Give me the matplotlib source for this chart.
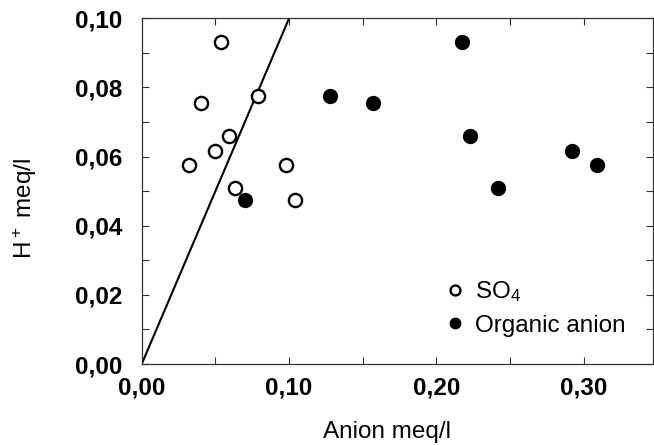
import matplotlib

matplotlib.use("Agg")
import matplotlib.pyplot as plt
from matplotlib.ticker import FuncFormatter, MultipleLocator


# sulphate samples (open circles)
so4_anion = [0.054, 0.040, 0.079, 0.059, 0.050, 0.032, 0.098, 0.063, 0.104]
so4_h = [0.093, 0.0755, 0.0775, 0.066, 0.0615, 0.0575, 0.0575, 0.051, 0.0475]

# organic anion samples (filled circles)
org_anion = [0.070, 0.128, 0.157, 0.217, 0.223, 0.242, 0.292, 0.309]
org_h = [0.0475, 0.0775, 0.0755, 0.093, 0.066, 0.051, 0.0615, 0.0575]

# 1:1 line
line_x = [0.0, 0.10]
line_y = [0.0, 0.10]

x_ticks = [0.0, 0.10, 0.20, 0.30]
y_ticks = [0.0, 0.02, 0.04, 0.06, 0.08, 0.10]

plt.rcParams["font.family"] = ["Liberation Sans", "DejaVu Sans"]
plt.rcParams["mathtext.default"] = "regular"
plt.rcParams["font.size"] = 17.5


def comma(value, pos):
    return f"{value:.2f}".replace(".", ",")


fig = plt.figure(figsize=(6.54, 4.45), dpi=100)
ax = fig.add_axes([0.2167, 0.182, 0.782, 0.777])

ax.plot(line_x, line_y, color="black", linewidth=1.5, zorder=2)
ax.plot(so4_anion, so4_h, "o", markersize=9.5, markerfacecolor="white",
        markeredgecolor="black", markeredgewidth=1.7, linestyle="none",
        label="SO$_4$", zorder=3)
ax.plot(org_anion, org_h, "o", markersize=10, color="black",
        linestyle="none", label="Organic anion", zorder=3)

ax.set_xlim(0, 0.347)
ax.set_ylim(0, 0.10)
ax.set_xticks(x_ticks)
ax.set_yticks(y_ticks)
ax.xaxis.set_minor_locator(MultipleLocator(0.05))
ax.yaxis.set_minor_locator(MultipleLocator(0.01))
ax.xaxis.set_major_formatter(FuncFormatter(comma))
ax.yaxis.set_major_formatter(FuncFormatter(comma))

ax.tick_params(which="both", direction="in", top=True, right=True,
               length=5, width=0.8, color="#333333")
ax.tick_params(axis="x", pad=9)
ax.tick_params(axis="y", pad=14)
for label in ax.get_xticklabels() + ax.get_yticklabels():
    label.set_fontweight("bold")
    label.set_fontsize(17.5)
for spine in ax.spines.values():
    spine.set_linewidth(0.9)
    spine.set_color("#333333")

ax.set_xlabel("Anion meq/l")
ax.set_ylabel("H$^+$ meq/l")
ax.xaxis.set_label_coords(0.48, -0.165)
ax.yaxis.set_label_coords(-0.2, 0.45)

ax.legend(loc="lower left", bbox_to_anchor=(0.58, 0.05), frameon=False,
          markerscale=0.75, handlelength=0.6, handletextpad=0.5,
          labelspacing=0.45, borderaxespad=0)

fig.savefig("out.png", dpi=100)
